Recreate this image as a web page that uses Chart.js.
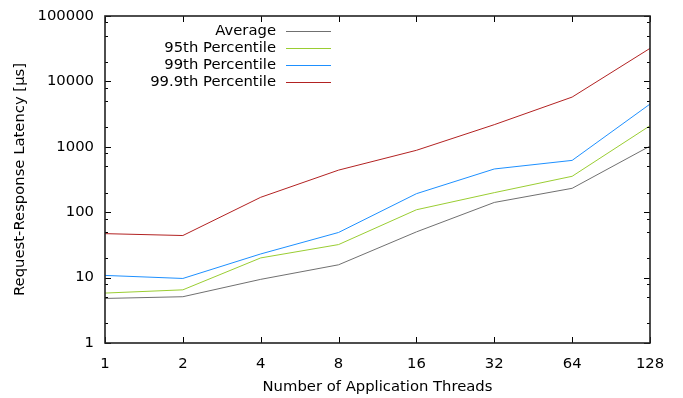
<!DOCTYPE html>
<html>
<head>
<meta charset="utf-8">
<script src="https://cdn.jsdelivr.net/npm/chart.js@4/dist/chart.umd.min.js"></script>
<style>
  body { margin: 0; background: #fff; }
  #wrap { width: 683px; height: 398px; position: relative; }
</style>
</head>
<body>
<div id="wrap"><canvas id="latencyChart"></canvas></div>
<script>
// thread counts on the x axis
const threads = ['1', '2', '4', '8', '16', '32', '64', '128'];

// latency in microseconds
const avgLatency = [4.8, 5.1, 9.4, 15.7, 50, 141, 232, 1025];
const p95Latency = [5.8, 6.5, 20, 32, 109, 199, 354, 2100];
const p99Latency = [10.8, 9.7, 23, 49, 192, 458, 620, 4500];
const p999Latency = [47, 44, 169, 440, 884, 2180, 5760, 32000];

const yTicks = [1, 10, 100, 1000, 10000, 100000];
const yMinorSteps = [2, 5, 8];

const FONT = { family: 'DejaVu Sans', size: 14.8 };

// gnuplot style frame with inward ticks on all four sides
const framePlugin = {
    id: 'frame',
    afterDraw(chart) {
        const ctx = chart.ctx;
        const a = chart.chartArea;
        const x = chart.scales.x;
        const y = chart.scales.y;
        ctx.save();
        ctx.strokeStyle = '#000';
        ctx.lineWidth = 1;
        ctx.beginPath();
        threads.forEach((t, i) => {
            const px = Math.round(x.getPixelForValue(i)) + 0.5;
            ctx.moveTo(px, a.bottom); ctx.lineTo(px, a.bottom - 6);
            ctx.moveTo(px, a.top); ctx.lineTo(px, a.top + 6);
        });
        yTicks.forEach((v) => {
            const py = Math.round(y.getPixelForValue(v)) + 0.5;
            ctx.moveTo(a.left, py); ctx.lineTo(a.left + 6, py);
            ctx.moveTo(a.right, py); ctx.lineTo(a.right - 6, py);
            if (v < 100000) {
                yMinorSteps.forEach((m) => {
                    const my = Math.round(y.getPixelForValue(v * m)) + 0.5;
                    ctx.moveTo(a.left, my); ctx.lineTo(a.left + 3, my);
                    ctx.moveTo(a.right, my); ctx.lineTo(a.right - 3, my);
                });
            }
        });
        ctx.stroke();
        ctx.strokeStyle = '#222';
        ctx.lineWidth = 1.6;
        ctx.strokeRect(a.left, a.top, a.right - a.left, a.bottom - a.top);
        ctx.restore();
    }
};

// key in the top left, label first and line sample after it
const keyPlugin = {
    id: 'key',
    afterDatasetsDraw(chart) {
        const ctx = chart.ctx;
        ctx.save();
        ctx.font = FONT.size + 'px ' + FONT.family;
        ctx.fillStyle = '#000';
        ctx.textAlign = 'right';
        ctx.textBaseline = 'middle';
        chart.data.datasets.forEach((ds, i) => {
            const yy = 31 + i * 17;
            ctx.fillText(ds.label, 276, yy);
            ctx.strokeStyle = ds.borderColor;
            ctx.lineWidth = 1;
            ctx.beginPath();
            ctx.moveTo(286, Math.round(yy) + 0.5);
            ctx.lineTo(331, Math.round(yy) + 0.5);
            ctx.stroke();
        });
        ctx.restore();
    }
};

function series(label, data, color) {
    return {
        label: label,
        data: data,
        borderColor: color,
        backgroundColor: color,
        borderWidth: 1,
        pointRadius: 0,
        tension: 0,
        fill: false
    };
}

new Chart(document.getElementById('latencyChart').getContext('2d'), {
    type: 'line',
    data: {
        labels: threads,
        datasets: [
            series('Average', avgLatency, '#707070'),
            series('95th Percentile', p95Latency, '#9acd32'),
            series('99th Percentile', p99Latency, '#1e90ff'),
            series('99.9th Percentile', p999Latency, '#b22222')
        ]
    },
    options: {
        responsive: true,
        maintainAspectRatio: false,
        animation: false,
        layout: { padding: { top: 16, right: 33, left: 0, bottom: 0 } },
        plugins: {
            legend: { display: false },
            tooltip: { enabled: false }
        },
        scales: {
            x: {
                type: 'category',
                offset: false,
                grid: { display: false, drawTicks: false },
                border: { display: false },
                ticks: { color: '#000', font: FONT, padding: 12, maxRotation: 0, autoSkip: false },
                title: { display: true, text: 'Number of Application Threads', color: '#000', font: FONT, padding: { top: 0, bottom: 2 } },
                afterFit(scale) {
                    scale.height = 55;
                    scale.paddingLeft = 0;
                    scale.paddingRight = 0;
                }
            },
            y: {
                type: 'logarithmic',
                min: 1,
                max: 100000,
                grid: { display: false, drawTicks: false },
                border: { display: false },
                afterBuildTicks(scale) { scale.ticks = yTicks.map(v => ({ value: v })); },
                ticks: { color: '#000', font: FONT, padding: 11, callback: (v) => String(v) },
                title: { display: true, text: 'Request-Response Latency [µs]', color: '#000', font: FONT, padding: { top: 11, bottom: 0 } },
                afterFit(scale) {
                    scale.width = 105;
                    scale.paddingTop = 0;
                    scale.paddingBottom = 0;
                }
            }
        }
    },
    plugins: [framePlugin, keyPlugin]
});
</script>
</body>
</html>
